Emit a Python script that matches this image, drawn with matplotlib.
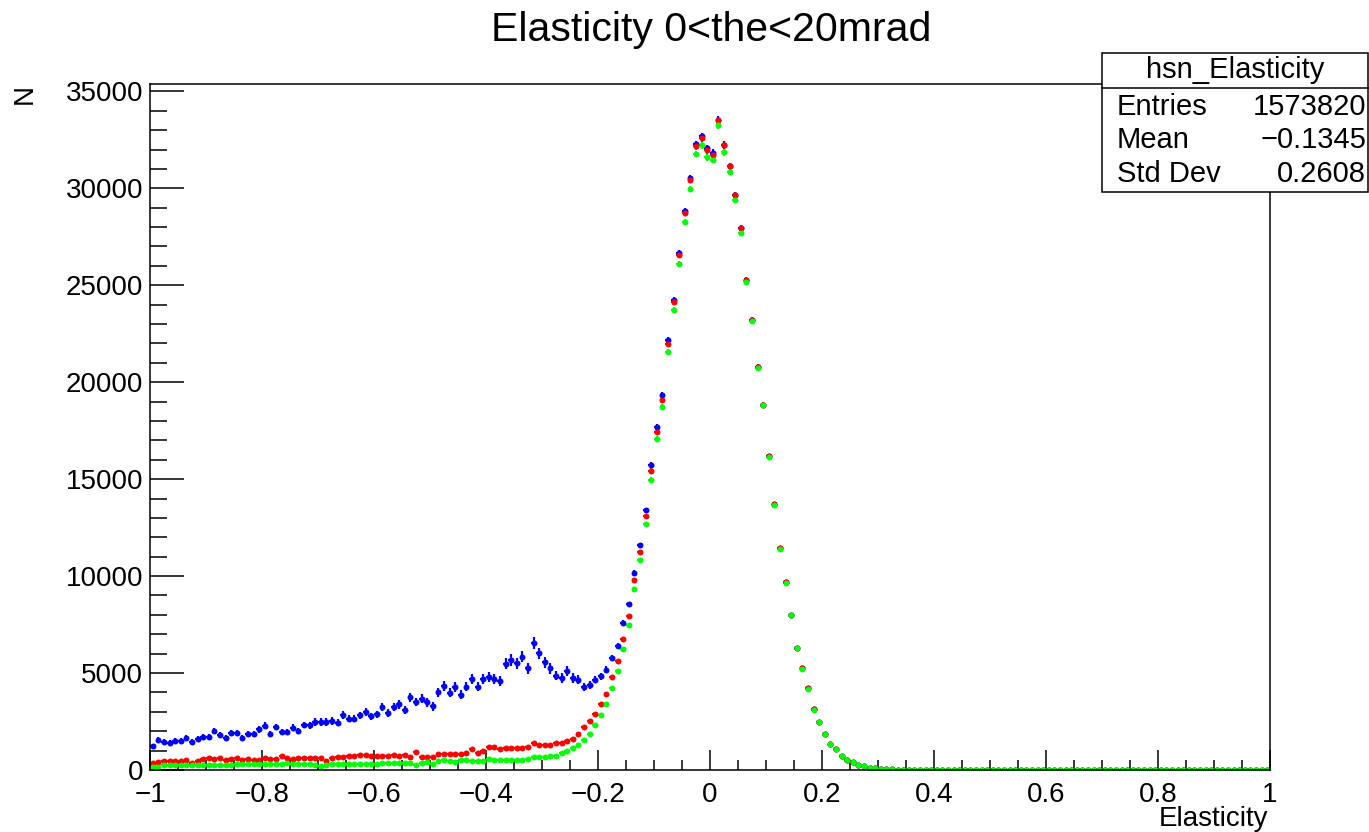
import numpy as np
import matplotlib.pyplot as plt
from matplotlib.patches import Rectangle
from matplotlib.lines import Line2D
from matplotlib.ticker import MultipleLocator

plt.rcParams['font.family'] = ['Liberation Sans', 'DejaVu Sans']

# histogram binning
x_lo, x_hi, n_bins = -1.0, 1.0, 200

# bin contents (bins 0..137, rest empty)
blue = [1230, 1570, 1450, 1400, 1500, 1500, 1660, 1450, 1600, 1710,
        1710, 2010, 1790, 1650, 1910, 1910, 1670, 1880, 1850, 2100,
        2290, 1850, 2220, 1960, 1960, 2190, 2010, 2320, 2310, 2480,
        2480, 2480, 2530, 2430, 2850, 2650, 2650, 2820, 2990, 2770,
        2870, 3250, 2940, 3250, 3380, 3110, 3760, 3500, 3670, 3500,
        3280, 4010, 4350, 3990, 4290, 3890, 4300, 4700, 4300, 4700,
        4780, 4700, 4610, 5470, 5670, 5500, 5840, 5240, 6530, 6010,
        5550, 5240, 4870, 4750, 5120, 4750, 4650, 4300, 4390, 4650,
        4830, 5180, 5760, 6400, 7570, 8540, 10170, 11600, 13390, 15730,
        17700, 19340, 22170, 24250, 26660, 28820, 30530, 32280, 32690, 32070,
        31820, 33540, 32250, 31150, 29650, 27950, 25270, 23200, 20780, 18820,
        16190, 13720, 11430, 9680, 8010, 6310, 5240, 4210, 3130, 2460,
        1840, 1360, 1080, 740, 530, 400, 260, 190, 120, 88,
        67, 45, 30, 20, 12, 8, 5, 3] + [0] * 62

red = [375, 425, 478, 478, 478, 478, 530, 375, 478, 580,
       600, 560, 600, 530, 560, 600, 530, 560, 530, 530,
       600, 560, 560, 717, 640, 560, 640, 600, 600, 600,
       600, 461, 600, 650, 650, 717, 717, 770, 770, 717,
       717, 717, 717, 770, 717, 770, 683, 940, 683, 683,
       683, 820, 820, 800, 815, 815, 888, 1059, 888, 1000,
       1161, 1161, 1059, 1110, 1110, 1110, 1110, 1196, 1367, 1281,
       1281, 1281, 1367, 1400, 1503, 1623, 1880, 2200, 2526, 2869,
       3382, 3930, 4782, 5636, 6780, 7942, 9800, 11260, 13100, 15430,
       17450, 19080, 21970, 24130, 26560, 28720, 30430, 32180, 32590, 31970,
       31720, 33520, 32230, 31150, 29650, 27950, 25270, 23200, 20780, 18820,
       16190, 13720, 11430, 9680, 8010, 6310, 5240, 4210, 3130, 2460,
       1840, 1360, 1080, 740, 530, 400, 260, 190, 120, 88,
       67, 45, 30, 20, 12, 8, 5, 3] + [0] * 62

green = [170, 170, 240, 240, 240, 240, 240, 240, 240, 240,
         240, 240, 240, 240, 240, 290, 290, 290, 290, 290,
         290, 290, 290, 290, 375, 330, 300, 307, 307, 240,
         222, 240, 290, 307, 307, 307, 307, 307, 307, 307,
         307, 342, 342, 342, 342, 342, 342, 256, 340, 427,
         290, 450, 512, 440, 420, 512, 512, 480, 480, 480,
         546, 512, 512, 512, 512, 512, 512, 580, 649, 649,
         680, 717, 717, 854, 990, 1110, 1281, 1537, 1879, 2306,
         2852, 3382, 4219, 5124, 6234, 7464, 9330, 10830, 12690, 14970,
         17070, 18720, 21570, 23720, 26090, 28260, 29960, 31770, 32230, 31610,
         31460, 33260, 31870, 30840, 29390, 27690, 25150, 23150, 20740, 18800,
         16150, 13690, 11410, 9660, 8000, 6300, 5230, 4200, 3120, 2450,
         1835, 1355, 1075, 738, 528, 398, 258, 189, 119, 87,
         66, 44, 30, 20, 12, 8, 5, 3] + [0] * 62

x_ticks = [-1, -0.8, -0.6, -0.4, -0.2, 0, 0.2, 0.4, 0.6, 0.8, 1]
x_ticklabels = ['\u22121', '\u22120.8', '\u22120.6', '\u22120.4', '\u22120.2', '0',
                '0.2', '0.4', '0.6', '0.8', '1']
y_ticks = [0, 5000, 10000, 15000, 20000, 25000, 30000, 35000]

title = 'Elasticity 0<the<20mrad'
stats_name = 'hsn_Elasticity'
stats_labels = ['Entries', 'Mean', 'Std Dev']
stats_values = ['1573820', '\u22120.1345', '0.2608']

assert len(blue) == len(red) == len(green) == n_bins

blue = np.array(blue, float)
red = np.array(red, float)
green = np.array(green, float)
width = (x_hi - x_lo) / n_bins
centers = x_lo + width * (np.arange(n_bins) + 0.5)

# errors (blue one is weighted)
blue_err = np.sqrt(red + 18 * (blue - red))
red_err = np.sqrt(red)
green_err = np.sqrt(green)

W, H = 1369, 832
fig = plt.figure(figsize=(W / 100, H / 100), dpi=100)
ax = fig.add_axes([150 / W, 1 - 770 / H, 1120 / W, (770 - 84) / H])

for vals, err, col in [(blue, blue_err, '#0000ff'),
                       (red, red_err, '#ff0000'),
                       (green, green_err, '#00ff00')]:
    ax.errorbar(centers, vals, xerr=width / 2, yerr=err, fmt='o', ms=4.3,
                mew=0, color=col, ecolor=col, elinewidth=1.6, capsize=0)
ax.plot(centers, red, ',', color='k')
ax.plot(centers, green, ',', color='k')

ax.set_xlim(x_lo, x_hi)
ax.set_ylim(0, 35380)
ax.set_xticks(x_ticks)
ax.set_xticklabels(x_ticklabels)
ax.set_yticks(y_ticks)
ax.set_yticklabels([str(v) for v in y_ticks])
ax.xaxis.set_minor_locator(MultipleLocator(0.05))
ax.yaxis.set_minor_locator(MultipleLocator(1000))
ax.tick_params(axis='x', which='major', direction='in', length=14.4, width=1.1,
               labelsize=20, pad=8.5)
ax.tick_params(axis='x', which='minor', direction='in', length=7.2, width=1.1)
ax.tick_params(axis='y', which='major', direction='in', length=24.5, width=1.1,
               labelsize=20, pad=5)
ax.tick_params(axis='y', which='minor', direction='in', length=12.2, width=1.1)
for s in ax.spines.values():
    s.set_linewidth(1.1)

fig.text(711 / W, 1 - 30 / H, title, ha='center', va='center', fontsize=29.5)
fig.text(1268 / W, 1 - 819 / H, 'Elasticity', ha='right', va='center', fontsize=20)
fig.text(25 / W, 1 - 84 / H, 'N', rotation=90, ha='center', va='top', fontsize=20)

# stats box
bx0, bx1, by0, by1 = 1102, 1368, 53, 192
fig.add_artist(Rectangle((bx0 / W, 1 - by1 / H), (bx1 - bx0) / W, (by1 - by0) / H,
                         transform=fig.transFigure, facecolor='white',
                         edgecolor='black', lw=1.1, zorder=5))
fig.add_artist(Line2D([bx0 / W, bx1 / W], [1 - 87.5 / H] * 2,
                      transform=fig.transFigure, color='black', lw=1.1, zorder=6))
fig.text((bx0 + bx1) / 2 / W, 1 - 70 / H, stats_name, ha='center', va='center',
         fontsize=21, zorder=7)
for k, (lab, val) in enumerate(zip(stats_labels, stats_values)):
    yy = 1 - (107 + 33.5 * k) / H
    fig.text(1117 / W, yy, lab, ha='left', va='center', fontsize=21, zorder=7)
    fig.text(1366 / W, yy, val, ha='right', va='center', fontsize=21, zorder=7)

fig.savefig('out.png', dpi=100)
